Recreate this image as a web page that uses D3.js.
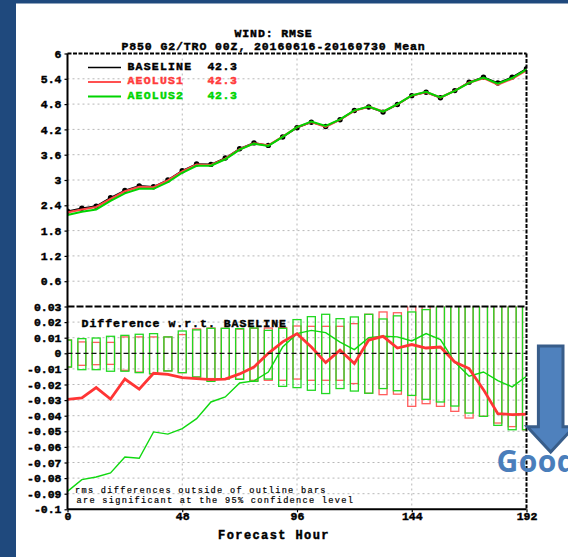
<!DOCTYPE html>
<html>
<head>
<meta charset="utf-8">
<script src="https://cdn.jsdelivr.net/npm/d3@7"></script>
<style>
  html, body { margin: 0; padding: 0; background: #1f497d; }
  svg { display: block; }
</style>
</head>
<body>
<svg id="chart" width="568" height="557"></svg>
<script>
// ---- data ---------------------------------------------------------------
const forecastHours = [0, 6, 12, 18, 24, 30, 36, 42, 48, 54, 60, 66, 72, 78, 84, 90, 96,
  102, 108, 114, 120, 126, 132, 138, 144, 150, 156, 162, 168, 174, 180, 186, 192];

// wind RMSE (m/s) for each run
const baseline = [2.26, 2.33, 2.38, 2.58, 2.75, 2.86, 2.84, 3.00, 3.22, 3.38, 3.37, 3.52, 3.74,
  3.88, 3.82, 4.02, 4.24, 4.37, 4.27, 4.43, 4.65, 4.73, 4.61, 4.79, 5.00, 5.08, 4.95, 5.12,
  5.32, 5.44, 5.30, 5.44, 5.64];
const aeolus1 = [2.231, 2.301, 2.358, 2.551, 2.734, 2.837, 2.827, 2.987, 3.204, 3.364, 3.353,
  3.504, 3.727, 3.871, 3.820, 4.027, 4.253, 4.374, 4.264, 4.432, 4.643, 4.739, 4.621, 4.793,
  5.006, 5.083, 4.954, 5.114, 5.310, 5.417, 5.261, 5.401, 5.601];
const aeolus2 = [2.172, 2.249, 2.301, 2.503, 2.684, 2.793, 2.790, 2.948, 3.172, 3.338, 3.339,
  3.492, 3.721, 3.862, 3.808, 4.024, 4.253, 4.385, 4.283, 4.437, 4.652, 4.740, 4.621, 4.801,
  5.008, 5.093, 4.959, 5.114, 5.305, 5.428, 5.283, 5.419, 5.625];

// differences with respect to BASELINE
const diffAeolus1 = [-0.0295, -0.0286, -0.022, -0.0293, -0.0165, -0.023, -0.0128, -0.0135,
  -0.0156, -0.0162, -0.0169, -0.0165, -0.0132, -0.0088, 0.0, 0.0073, 0.0126, 0.004, -0.006,
  0.002, -0.0066, 0.0085, 0.0109, 0.0034, 0.0056, 0.0034, 0.004, -0.0056, -0.0098, -0.0233,
  -0.0387, -0.0393, -0.039];
const diffAeolus2 = [-0.0885, -0.081, -0.0793, -0.0767, -0.0665, -0.0673, -0.0504, -0.0518,
  -0.0483, -0.0419, -0.0312, -0.028, -0.019, -0.0177, -0.012, 0.004, 0.0126, 0.0147, 0.0133,
  0.0072, 0.0024, 0.01, 0.0109, 0.0105, 0.0079, 0.0126, 0.0088, -0.0056, -0.0147, -0.012,
  -0.0175, -0.0215, -0.0147];

// 95% significance bounds (outline bars)
const sigAeolus1Upper = [0.0085, 0.0073, 0.007, 0.007, 0.0105, 0.0105, 0.0105, 0.0105, 0.012,
  0.0156, 0.0162, 0.016, 0.0155, 0.016, 0.0162, 0.0165, 0.0175, 0.0173, 0.0173, 0.0173, 0.019,
  0.025, 0.0265, 0.026, 0.032, 0.033, 0.034, 0.037, 0.042, 0.041, 0.045, 0.048, 0.049];
const sigAeolus1Lower = [-0.0088, -0.0077, -0.0073, -0.0071, -0.0109, -0.012, -0.013, -0.0113,
  -0.0124, -0.0152, -0.0162, -0.0162, -0.0165, -0.0173, -0.0173, -0.0173, -0.0165, -0.0173,
  -0.0173, -0.0173, -0.0194, -0.0256, -0.0265, -0.0262, -0.034, -0.0323, -0.034, -0.0372,
  -0.0415, -0.0404, -0.0447, -0.047, -0.049];
const sigAeolus2Upper = [0.0085, 0.0094, 0.0098, 0.0109, 0.0115, 0.0122, 0.0126, 0.0105,
  0.0143, 0.015, 0.016, 0.016, 0.0158, 0.0162, 0.0147, 0.016, 0.0216, 0.0235, 0.025, 0.0222,
  0.0233, 0.025, 0.022, 0.024, 0.0265, 0.028, 0.031, 0.034, 0.038, 0.04, 0.046, 0.049, 0.049];
const sigAeolus2Lower = [-0.0088, -0.0105, -0.0105, -0.0115, -0.0115, -0.0124, -0.0132,
  -0.0113, -0.0124, -0.0152, -0.018, -0.0165, -0.0167, -0.018, -0.0165, -0.0212, -0.022,
  -0.0237, -0.0258, -0.0226, -0.0242, -0.0256, -0.0226, -0.024, -0.027, -0.0295, -0.0312,
  -0.0338, -0.0383, -0.0404, -0.0462, -0.049, -0.049];

const rmseTicks = [0.6, 1.2, 1.8, 2.4, 3, 3.6, 4.2, 4.8, 5.4, 6];
const diffTicks = [0.03, 0.02, 0.01, 0, -0.01, -0.02, -0.03, -0.04, -0.05, -0.06, -0.07,
  -0.08, -0.09, -0.1];
const hourTicks = [0, 48, 96, 144, 192];

const seriesNames = ["BASELINE", "AEOLUS1", "AEOLUS2"];
const seriesScores = ["42.3", "42.3", "42.3"];
const seriesColors = ["#000000", "#ff3b3b", "#00d400"];

const titleLines = ["WIND: RMSE", "P850 G2/TRO 00Z, 20160616-20160730 Mean"];
const footnoteLines = ["rms differences outside of outline bars",
  "are significant at the 95% confidence level"];

// ---- layout --------------------------------------------------------------
const svg = d3.select("#chart");
const FONT = "'Liberation Mono', 'DejaVu Sans Mono', monospace";

const left = 67.5, right = 526.5;
const topY = 53.5, midY = 306.5, botY = 509.3;

const x = d3.scaleLinear().domain([0, 192]).range([left, right]);
const yTop = d3.scaleLinear().domain([0, 6]).range([midY, topY]);
const yBot = d3.scaleLinear().domain([-0.1, 0.03]).range([botY, midY]);

// heavy plotter-style lettering
const heavy = (sel, color) => sel.attr("font-family", FONT).attr("font-weight", "bold")
  .attr("fill", color).attr("stroke", color).attr("stroke-width", 0.45);

// slide background and white card
svg.append("rect").attr("x", 0).attr("y", 0).attr("width", 568).attr("height", 557).attr("fill", "#1f497d");
svg.append("rect").attr("x", 16).attr("y", 3.5).attr("width", 552).attr("height", 554).attr("fill", "#ffffff");

const defs = svg.append("defs");
defs.append("clipPath").attr("id", "clipTop").append("rect")
  .attr("x", left).attr("y", topY).attr("width", right - left).attr("height", midY - topY);
defs.append("clipPath").attr("id", "clipBot").append("rect")
  .attr("x", left).attr("y", midY).attr("width", right - left).attr("height", botY - midY);

// ---- grid ------------------------------------------------------------------
const grid = svg.append("g").attr("stroke", "#b8b8b8").attr("stroke-width", 1)
  .attr("stroke-dasharray", "2,3");
grid.selectAll("line.v").data(hourTicks.filter(h => h > 0 && h < 192)).join("line")
  .attr("x1", d => x(d)).attr("x2", d => x(d)).attr("y1", topY).attr("y2", botY);
grid.selectAll("line.ht").data(rmseTicks.filter(v => v < 6)).join("line")
  .attr("x1", left).attr("x2", right).attr("y1", d => yTop(d)).attr("y2", d => yTop(d));
grid.selectAll("line.hb").data(diffTicks.filter(v => v < 0.03 && v !== 0 && v > -0.1)).join("line")
  .attr("x1", left).attr("x2", right).attr("y1", d => yBot(d)).attr("y2", d => yBot(d));

// ---- top panel: RMSE curves -----------------------------------------------
const topG = svg.append("g").attr("clip-path", "url(#clipTop)");
const lineTop = vals => d3.line().x((d, i) => x(forecastHours[i])).y(d => yTop(d))(vals);

topG.append("path").attr("d", lineTop(baseline)).attr("fill", "none")
  .attr("stroke", "#000").attr("stroke-width", 1.6);
topG.selectAll("circle.dot").data(baseline).join("circle")
  .attr("cx", (d, i) => x(forecastHours[i])).attr("cy", d => yTop(d)).attr("r", 2.7).attr("fill", "#000");
topG.append("path").attr("d", lineTop(aeolus1)).attr("fill", "none")
  .attr("stroke", "#ff4545").attr("stroke-width", 2.2);
topG.append("path").attr("d", lineTop(aeolus2)).attr("fill", "none")
  .attr("stroke", "#00d400").attr("stroke-width", 2);

// legend
const legend = svg.append("g");
const legendRows = [69.5, 84, 98.5];
seriesNames.forEach((name, i) => {
  legend.append("line").attr("x1", 88).attr("x2", 121)
    .attr("y1", legendRows[i] - 2).attr("y2", legendRows[i] - 2)
    .attr("stroke", i === 1 ? "#ff5050" : seriesColors[i]).attr("stroke-width", i === 0 ? 1.5 : 2);
  legend.append("text").attr("x", 127.5).attr("y", legendRows[i]).text(name)
    .attr("font-size", 11.5).attr("letter-spacing", 1.2).call(heavy, seriesColors[i]);
  legend.append("text").attr("x", 207.5).attr("y", legendRows[i]).text(seriesScores[i])
    .attr("font-size", 11.5).attr("letter-spacing", 0.6).call(heavy, seriesColors[i]);
});

// ---- bottom panel: differences --------------------------------------------
const botG = svg.append("g").attr("clip-path", "url(#clipBot)");
const barW = 8;
const drawBars = (upper, lower, color) => {
  botG.append("g").selectAll("rect").data(forecastHours).join("rect")
    .attr("x", (h) => x(h) - barW / 2)
    .attr("y", (h, i) => yBot(upper[i]))
    .attr("width", barW)
    .attr("height", (h, i) => yBot(lower[i]) - yBot(upper[i]))
    .attr("fill", "none").attr("stroke", color).attr("stroke-width", 1.3);
};
drawBars(sigAeolus1Upper, sigAeolus1Lower, "#ff5c5c");
drawBars(sigAeolus2Upper, sigAeolus2Lower, "#22d822");

// zero reference
svg.append("line").attr("x1", left).attr("x2", right).attr("y1", yBot(0)).attr("y2", yBot(0))
  .attr("stroke", "#111").attr("stroke-width", 1.2).attr("stroke-dasharray", "5,3");

const lineBot = vals => d3.line().x((d, i) => x(forecastHours[i])).y(d => yBot(d))(vals);
botG.append("path").attr("d", lineBot(diffAeolus2)).attr("fill", "none")
  .attr("stroke", "#10d810").attr("stroke-width", 1.4);
botG.append("path").attr("d", lineBot(diffAeolus1)).attr("fill", "none")
  .attr("stroke", "#ff3535").attr("stroke-width", 2.8);

svg.append("text").attr("x", 81.5).attr("y", 327.3).text("Difference w.r.t. BASELINE")
  .attr("font-size", 11.5).attr("letter-spacing", 1.0).call(heavy, "#000");

footnoteLines.forEach((t, i) => {
  svg.append("text").attr("x", i === 0 ? 75 : 76.5).attr("y", 492.8 + i * 10.2).text(t)
    .attr("font-family", FONT).attr("font-size", 8.6).attr("letter-spacing", 1.3)
    .attr("fill", "#000").attr("stroke", "#000").attr("stroke-width", 0.2);
});

// ---- frame & axes ---------------------------------------------------------
const frame = svg.append("g").attr("fill", "none").attr("stroke", "#000");
frame.append("line").attr("x1", left).attr("x2", left).attr("y1", topY).attr("y2", botY).attr("stroke-width", 2);
frame.append("line").attr("x1", left).attr("x2", right).attr("y1", botY).attr("y2", botY).attr("stroke-width", 2);
frame.append("line").attr("x1", right).attr("x2", right).attr("y1", topY).attr("y2", botY)
  .attr("stroke-width", 2).attr("stroke-dasharray", "4,1.5");
frame.append("line").attr("x1", left).attr("x2", right).attr("y1", topY).attr("y2", topY)
  .attr("stroke-width", 1.8).attr("stroke-dasharray", "4,1.5");
frame.append("line").attr("x1", left).attr("x2", right).attr("y1", midY).attr("y2", midY)
  .attr("stroke-width", 2).attr("stroke-dasharray", "7,2");

const styleAxis = g => {
  g.select(".domain").remove();
  g.selectAll(".tick line").attr("stroke", "#000").attr("stroke-width", 1.2);
  g.selectAll(".tick text").attr("font-size", 11.5).call(heavy, "#000");
};

svg.append("g").attr("transform", `translate(${left},0)`)
  .call(d3.axisLeft(yTop).tickValues(rmseTicks).tickSize(3).tickPadding(3)
    .tickFormat(d => String(+d.toFixed(1))))
  .call(styleAxis);
svg.append("g").attr("transform", `translate(${left},0)`)
  .call(d3.axisLeft(yBot).tickValues(diffTicks).tickSize(3).tickPadding(3)
    .tickFormat(d => String(+d.toFixed(2))))
  .call(styleAxis);
svg.append("g").attr("transform", `translate(0,${botY})`)
  .call(d3.axisBottom(x).tickValues(hourTicks).tickSize(3).tickPadding(0)
    .tickFormat(d3.format("d")))
  .call(styleAxis);

// titles
titleLines.forEach((t, i) => {
  svg.append("text").attr("x", 273.5).attr("y", 37 + i * 12.5).attr("text-anchor", "middle").text(t)
    .attr("font-size", 11.5).attr("letter-spacing", 0.9).call(heavy, "#000");
});
svg.append("text").attr("x", 274).attr("y", 539).attr("text-anchor", "middle").text("Forecast Hour")
  .attr("font-size", 12).attr("letter-spacing", 1.4).call(heavy, "#000");

// ---- "Good" direction arrow -----------------------------------------------
const ax = 550.7, shaftHalf = 12.3, headHalf = 23.5, shaftTop = 346, headTop = 426.7, tipY = 452;
const arrowPts = [[ax - shaftHalf, shaftTop], [ax + shaftHalf, shaftTop], [ax + shaftHalf, headTop],
  [ax + headHalf, headTop], [ax, tipY], [ax - headHalf, headTop], [ax - shaftHalf, headTop]];
svg.append("path").attr("d", d3.line()(arrowPts) + "Z")
  .attr("fill", "#4f81bd").attr("stroke", "#385d8a").attr("stroke-width", 3)
  .attr("stroke-linejoin", "miter");
svg.append("text").attr("x", 496.5).attr("y", 471.5).text("Good")
  .attr("font-family", "'Open Sans', Lato, sans-serif").attr("font-weight", "bold")
  .attr("font-size", 30).attr("letter-spacing", 0.5).attr("fill", "#4a7ebb");
</script>
</body>
</html>
